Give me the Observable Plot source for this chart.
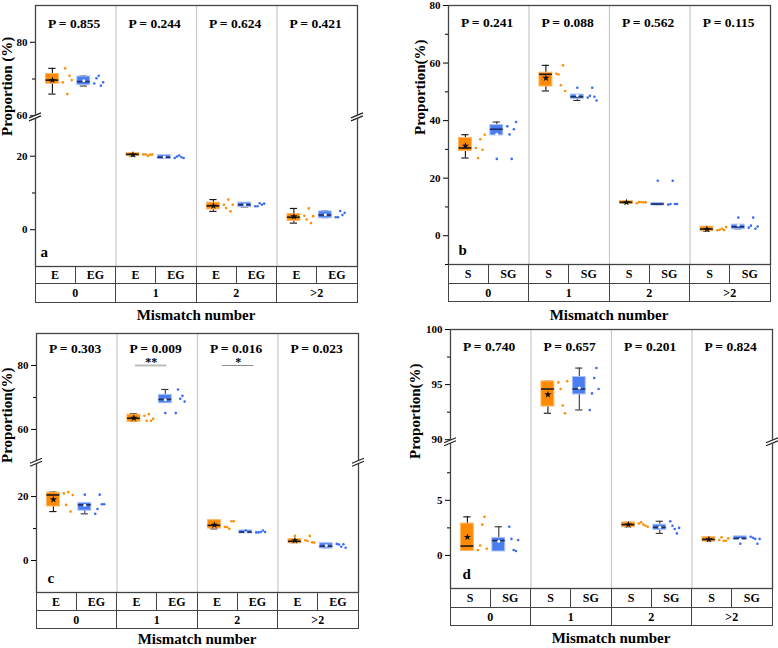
<!DOCTYPE html>
<html><head><meta charset="utf-8">
<script src="https://cdn.jsdelivr.net/npm/d3@7"></script>
<script src="https://cdn.jsdelivr.net/npm/@observablehq/plot@0.6"></script>
<style>
body{margin:0;background:#fff;font-family:"Liberation Serif","Times New Roman",serif;}
#root{position:relative;width:778px;height:648px;overflow:hidden;}
.panel{position:absolute;}
table.cat{position:absolute;border-collapse:collapse;table-layout:fixed;font-weight:bold;font-size:12px;color:#000;}
table.cat td{border:1px solid #444;text-align:center;padding:0;line-height:12px;}
.xt{position:absolute;font-weight:bold;font-size:15px;line-height:15px;transform:translate(-50%,-50%);white-space:nowrap;}
</style></head><body><div id="root"></div>
<script>
// ---------- data ----------
const groups = ["0", "1", "2", ">2"];

// panel a  (box rows: min, q1, median, q3, max, mean)
const aSub = ["E", "EG"];
const aP = ["0.855", "0.244", "0.624", "0.421"];
const aBoxE  = [[65.9,69.0,69.7,71.1,72.9,69.7],[20.1,20.3,20.5,20.6,20.6,20.4],[5.0,5.8,6.5,7.1,8.2,6.5],[1.8,2.7,3.4,4.0,5.8,3.6]];
const aBoxEG = [[68.1,68.6,69.3,70.4,70.8,69.5],[19.5,19.5,19.7,20.0,20.2,19.8],[6.2,6.4,6.8,7.1,7.3,6.8],[3.3,3.4,4.0,4.7,5.1,4.1]];
const aPtsE  = [[69.1,72.9,65.9,70.9,69.7],[20.5,20.5,20.1,20.4,20.5],[6.8,5.9,8.2,5.0,6.8],[3.8,2.8,5.8,1.8,3.7]];
const aPtsEG = [[68.8,70.2,70.9,68.2,69.1],[19.5,19.9,20.2,19.7,19.5],[6.4,6.4,7.2,6.8,7.1],[3.4,3.4,5.1,4.0,4.6]];
const aOutE  = [[],[],[],[]];
const aOutEG = [[],[],[],[]];
const aTicks = [0, 20, 60, 80];
const aMinor = [10, 70];

// panel b
const bSub = ["S", "SG"];
const bP = ["0.241", "0.088", "0.562", "0.115"];
const bBoxS  = [[27.0,29.8,30.5,33.6,35.1,31.2],[50.3,52.2,56.1,56.3,59.2,54.8],[11.3,11.45,11.6,11.7,11.7,11.6],[1.6,1.9,2.3,2.8,3.1,2.3]];
const bBoxSG = [[35.2,35.2,37.0,38.1,39.5,35.3],[47.0,47.9,48.3,48.7,48.7,48.7],[10.8,10.9,11.0,11.05,11.1,12.6],[2.4,2.6,3.1,3.5,3.6,3.6]];
const bPtsS  = [[30.5,27.0,33.5,29.9,35.1],[56.3,56.0,52.3,59.2,50.3],[11.3,11.7,11.7,11.6,11.6],[1.9,2.1,2.4,2.0,3.0]];
const bPtsSG = [[38.0,35.2,26.7,37.0,39.5],[48.0,48.6,51.4,48.3,47.0],[10.8,11.0,19.1,11.0,11.0],[2.8,3.5,6.3,2.4,3.2]];
const bOutS  = [[],[],[],[]];
const bOutSG = [[26.7],[51.4],[19.1],[6.3]];
const bTicks = [0, 20, 40, 60, 80];
const bMinor = [-10, 10, 30, 50, 70];

// panel c
const cSub = ["E", "EG"];
const cP = ["0.303", "0.009", "0.016", "0.023"];
const cBoxE  = [[15.3,17.2,20.5,20.9,21.4,19.1],[62.5,62.7,63.5,64.3,64.9,63.6],[9.9,10.3,11.0,12.3,12.3,11.1],[5.6,5.7,6.0,6.4,6.4,6.3]];
const cBoxEG = [[14.6,15.9,17.4,17.7,17.7,17.3],[68.5,68.5,69.4,70.5,72.5,69.3],[8.8,8.8,8.9,9.1,9.1,9.0],[4.0,4.1,4.5,5.1,5.2,4.7]];
const cPtsE  = [[21.0,17.4,21.4,15.3,20.5],[64.3,62.7,64.8,62.7,63.3],[10.5,10.5,9.9,12.3,12.3],[6.35,6.1,7.7,5.7,5.6]];
const cPtsEG = [[14.6,16.1,20.6,17.6,17.6],[65.1,72.5,69.6,70.5,68.7],[8.8,8.8,8.9,9.4,8.9],[5.2,5.0,4.3,5.1,4.0]];
const cOutE  = [[],[],[],[7.7]];
const cOutEG = [[20.6],[65.1],[9.4],[]];
const cTicks = [0, 20, 60, 80];
const cMinor = [10, 70];
const cSigGroup = [1, 2];
const cSigLabel = ["**", "*"];
const cSigValue = [80, 80];

// panel d
const dSub = ["S", "SG"];
const dP = ["0.740", "0.657", "0.201", "0.824"];
const dBoxS  = [[0.5,0.5,0.85,2.8,3.5,1.66],[92.4,93.1,94.6,95.2,95.3,94.1],[2.6,2.65,2.8,2.9,3.0,2.8],[1.33,1.35,1.45,1.57,1.64,1.45]];
const dBoxSG = [[0.45,0.45,1.35,1.5,2.6,1.28],[92.7,94.2,94.6,95.6,96.5,94.7],[2.0,2.4,2.55,2.7,3.1,2.55],[1.5,1.5,1.55,1.64,1.7,1.47]];
const dPtsS  = [[0.5,0.9,2.8,3.5,0.6],[95.2,94.6,93.1,92.4,95.3],[2.9,3.0,2.8,2.7,2.6],[1.4,1.64,1.33,1.33,1.55]];
const dPtsSG = [[2.6,1.5,0.5,0.4,1.4],[92.7,94.2,95.6,96.5,94.6],[3.1,2.7,2.4,2.0,2.5],[1.7,1.6,1.5,1.06,1.5]];
const dOutS  = [[],[],[],[]];
const dOutSG = [[],[],[],[1.06]];
const dTicks = [0, 5, 90, 95, 100];
const dMinor = [2.5, 7.5, 92.5, 97.5];

// ---------- drawing ----------
const ORANGE = "#FF8A05", ORANGE_EDGE = "#FFB866";
const BLUE = "#4A7EF0", BLUE_EDGE = "#A9C1F6";
const PT_OR = "#FF8C00", PT_BL = "#3D6CF2";
const BOXC = [0.21, 0.60], PTS0 = [0.34, 0.73], SPREAD = 0.11, HALF = 0.08, CAP = 0.045;

const root = document.getElementById("root");

function makePanel(cfg) {
  const b = cfg.brk;
  const T = v => !b ? v : (v <= b.lowMax ? v : v - b.upMin + b.lowMax + b.gap);
  const boxes = [], pts = [], outs = [];
  [cfg.box1, cfg.box2].forEach((arr, s) => arr.forEach((r, g) => {
    boxes.push({g, s, xc: g + BOXC[s], min: r[0], q1: r[1], med: r[2], q3: r[3], max: r[4], mean: r[5]});
  }));
  [cfg.pts1, cfg.pts2].forEach((arr, s) => arr.forEach((vals, g) => {
    vals.forEach((v, j) => pts.push({s, x: g + PTS0[s] + j * SPREAD / (vals.length - 1), v}));
  }));
  [cfg.out1, cfg.out2].forEach((arr, s) => arr.forEach((vals, g) => {
    vals.forEach(v => outs.push({s, x: g + BOXC[s], v}));
  }));
  const majorT = cfg.ticks.map(T);
  const labelMap = new Map(cfg.ticks.map(v => [T(v), String(v)]));
  const minorT = cfg.minor.map(T);
  const W = 389;
  const frameW = W - cfg.ml - cfg.mr;

  const marks = [
    Plot.ruleX([1, 2, 3], {stroke: "#c9c9c9", strokeWidth: 1.2}),
    Plot.ruleX(boxes, {x: "xc", y1: d => T(d.min), y2: d => T(d.max), stroke: d => d.s ? "#333" : "#111", strokeWidth: 1.1}),
    Plot.ruleY(boxes, {y: d => T(d.max), x1: d => d.xc - CAP, x2: d => d.xc + CAP, stroke: d => d.s ? "#333" : "#111", strokeWidth: 1.1}),
    Plot.ruleY(boxes, {y: d => T(d.min), x1: d => d.xc - CAP, x2: d => d.xc + CAP, stroke: d => d.s ? "#333" : "#111", strokeWidth: 1.1}),
    Plot.rect(boxes, {x1: d => d.xc - HALF, x2: d => d.xc + HALF, y1: d => T(d.q1), y2: d => T(d.q3),
      fill: d => d.s ? BLUE : ORANGE, stroke: d => d.s ? BLUE_EDGE : ORANGE_EDGE, strokeWidth: 1, insetTop: -1, insetBottom: -1}),
    Plot.ruleY(boxes, {y: d => T(d.med), x1: d => d.xc - HALF, x2: d => d.xc + HALF, stroke: d => d.s ? "#1b2d6b" : "#1a1a1a", strokeWidth: 1.6}),
    Plot.dot(boxes.filter(d => d.s === 0), {x: "xc", y: d => T(d.mean), symbol: "star", r: 2.3, fill: "#111", stroke: null}),
    Plot.dot(boxes.filter(d => d.s === 1), {x: "xc", y: d => T(d.mean), symbol: "circle", r: 1.5, fill: "#fff", stroke: null}),
    Plot.dot(outs, {x: "x", y: d => T(d.v), r: 1.3, fill: d => d.s ? PT_BL : PT_OR, stroke: null}),
    Plot.dot(pts, {x: "x", y: d => T(d.v), r: 1.3, fill: d => d.s ? PT_BL : PT_OR, stroke: null}),
    Plot.frame({stroke: "#444", strokeWidth: 1.3}),
    Plot.axisY({ticks: majorT, tickSize: 5, tickPadding: 3, tickFormat: t => labelMap.get(t), fontSize: 11, fontWeight: "bold"}),
    Plot.axisY({ticks: minorT, tickSize: 3, tickFormat: () => ""}),
    Plot.text([cfg.yLabel], {frameAnchor: "left", rotate: -90, dx: -cfg.labelOffset, fontSize: 15, fontWeight: "bold", fill: "#000"}),
    Plot.text(cfg.P, {x: (d, i) => i + 0.48, frameAnchor: "top", dy: cfg.pDy, text: d => "P = " + d, fontSize: 13.5, fontWeight: "bold", fill: "#000"}),
    Plot.text([cfg.letter], {frameAnchor: "bottom-left", dx: cfg.letterDx, dy: -10, fontSize: 15, fontWeight: "bold", fill: "#000"})
  ];
  if (cfg.sig) {
    const sig = cfg.sig.g.map((g, i) => ({g, label: cfg.sig.label[i], v: cfg.sig.v[i]}));
    marks.push(
      Plot.ruleY(sig, {y: d => T(d.v), x1: d => d.g + BOXC[0] + (d.label === "*" ? 0.1 : 0.02), x2: d => d.g + BOXC[1] + (d.label === "*" ? 0.1 : 0.02),
        stroke: d => d.label === "**" ? "#bdbdbd" : "#8a8a8a", strokeWidth: d => d.label === "**" ? 2 : 1}),
      Plot.text(sig, {x: d => d.g + (BOXC[0] + BOXC[1]) / 2 + (d.label === "*" ? 0.1 : 0.02), y: d => T(d.v), dy: -3, text: "label", fontSize: 12, fontWeight: "bold", fill: "#000"})
    );
  }
  if (b) {
    const tb = b.lowMax + b.gap / 2;
    marks.push((index, scales, values, dims) => {
      const g = d3.create("svg:g");
      const y = scales.y(tb);
      for (const x of [dims.marginLeft, dims.width - dims.marginRight]) {
        g.append("path").attr("d", `M${x - 6},${y + 0.5}L${x + 6},${y - 4.5}L${x + 6},${y - 1}L${x - 6},${y + 4}Z`).attr("fill", "#fff");
        g.append("path").attr("d", `M${x - 6},${y + 0.8}L${x + 6},${y - 4.2}M${x - 6},${y + 3.8}L${x + 6},${y - 1.2}`)
          .attr("stroke", "#222").attr("stroke-width", 1.2).attr("fill", "none");
      }
      return g.node();
    });
  }

  const svg = Plot.plot({
    width: W, height: cfg.h,
    marginLeft: cfg.ml, marginRight: cfg.mr, marginTop: cfg.mt, marginBottom: 1,
    x: {domain: [0, 4], axis: null},
    y: {domain: cfg.domain, axis: null},
    style: {fontFamily: "Liberation Serif, Times New Roman, serif", fontWeight: "bold", fontSize: "11px", background: "transparent", overflow: "visible", color: "#000"},
    marks
  });
  const div = document.createElement("div");
  div.className = "panel";
  div.style.left = cfg.left + "px";
  div.style.top = cfg.top + "px";
  div.appendChild(svg);
  root.appendChild(div);

  // category table below the frame
  const frameLeft = cfg.left + cfg.ml, frameBottom = cfg.top + cfg.h - 1;
  const tbl = document.createElement("table");
  tbl.className = "cat";
  tbl.style.left = (frameLeft - 0.5) + "px";
  tbl.style.top = frameBottom + "px";
  tbl.style.width = (frameW + 1) + "px";
  const cg = document.createElement("colgroup");
  for (let i = 0; i < 8; i++) { const c = document.createElement("col"); c.style.width = (frameW / 8) + "px"; cg.appendChild(c); }
  tbl.appendChild(cg);
  const r1 = tbl.insertRow(), r2 = tbl.insertRow();
  r1.style.height = cfg.rows[0] + "px"; r2.style.height = cfg.rows[1] + "px";
  groups.forEach(g => {
    cfg.sub.forEach(s => { const td = r1.insertCell(); td.textContent = s; });
    const td = r2.insertCell(); td.colSpan = 2; td.textContent = g;
  });
  root.appendChild(tbl);

  const xt = document.createElement("div");
  xt.className = "xt";
  xt.textContent = "Mismatch number";
  xt.style.left = (frameLeft + frameW / 2) + "px";
  xt.style.top = cfg.titleY + "px";
  root.appendChild(xt);
}

makePanel({left: 0, top: 0, h: 267, ml: 35, mr: 32, mt: 5, domain: [-10, 61], brk: {lowMax: 30, upMin: 60, gap: 1},
  ticks: aTicks, minor: aMinor, yLabel: "Proportion (%)", labelOffset: 28, P: aP, pDy: 13, letter: "a", letterDx: 5,
  sub: aSub, box1: aBoxE, box2: aBoxEG, pts1: aPtsE, pts2: aPtsEG, out1: aOutE, out2: aOutEG, rows: [17, 19], titleY: 315});

makePanel({left: 389, top: 0, h: 265, ml: 59, mr: 8, mt: 5, domain: [-10, 80], brk: null,
  ticks: bTicks, minor: bMinor, yLabel: "Proportion(%)", labelOffset: 28, P: bP, pDy: 12, letter: "b", letterDx: 10,
  sub: bSub, box1: bBoxS, box2: bBoxSG, pts1: bPtsS, pts2: bPtsSG, out1: bOutS, out2: bOutSG, rows: [19, 18], titleY: 315});

makePanel({left: 0, top: 324, h: 269, ml: 36, mr: 31, mt: 9, domain: [-10, 71], brk: {lowMax: 30, upMin: 50, gap: 1},
  ticks: cTicks, minor: cMinor, yLabel: "Proportion(%)", labelOffset: 29, P: cP, pDy: 9.5, letter: "c", letterDx: 11,
  sub: cSub, box1: cBoxE, box2: cBoxEG, pts1: cPtsE, pts2: cPtsEG, out1: cOutE, out2: cOutEG, rows: [18, 18], titleY: 639,
  sig: {g: cSigGroup, label: cSigLabel, v: cSigValue}});

makePanel({left: 389, top: 324, h: 265, ml: 61, mr: 6, mt: 5, domain: [-3, 20.5], brk: {lowMax: 10, upMin: 90, gap: 0.5},
  ticks: dTicks, minor: dMinor, yLabel: "Proportion(%)", labelOffset: 35, P: dP, pDy: 12, letter: "d", letterDx: 12,
  sub: dSub, box1: dBoxS, box2: dBoxSG, pts1: dPtsS, pts2: dPtsSG, out1: dOutS, out2: dOutSG, rows: [19, 18], titleY: 638});
</script></body></html>
